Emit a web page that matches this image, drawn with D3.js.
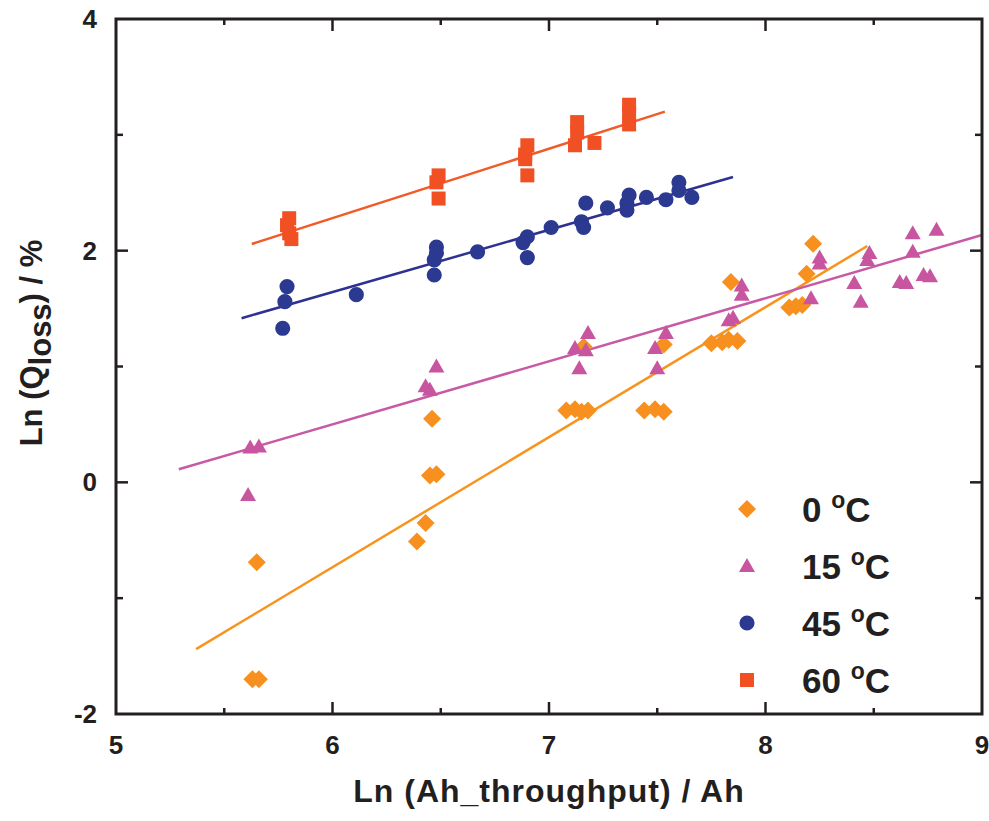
<!DOCTYPE html>
<html>
<head>
<meta charset="utf-8">
<script src="https://cdn.jsdelivr.net/npm/d3@7"></script>
<style>
  body { margin: 0; background: #fff; }
  text { font-family: "Liberation Sans", Arial, sans-serif; font-weight: bold; fill: #231f20; }
</style>
</head>
<body>
<div id="chart"></div>
<script>
// 0 °C
const x0C = [5.63, 5.66, 5.65, 6.39, 6.43, 6.45, 6.48, 6.46, 7.08, 7.12, 7.15, 7.18, 7.16, 7.44, 7.49, 7.53, 7.53, 7.75, 7.80, 7.83, 7.87, 7.84, 8.11, 8.14, 8.17, 8.19, 8.22];
const y0C = [-1.70, -1.70, -0.69, -0.51, -0.35, 0.06, 0.07, 0.55, 0.62, 0.63, 0.61, 0.62, 1.17, 0.62, 0.63, 0.61, 1.19, 1.20, 1.21, 1.23, 1.22, 1.73, 1.51, 1.52, 1.53, 1.80, 2.06];
// 15 °C
const x15C = [5.61, 5.62, 5.66, 6.43, 6.45, 6.48, 7.12, 7.17, 7.14, 7.18, 7.49, 7.50, 7.54, 7.83, 7.85, 7.89, 7.89, 8.21, 8.25, 8.25, 8.41, 8.44, 8.47, 8.48, 8.62, 8.65, 8.68, 8.68, 8.73, 8.76, 8.79];
const y15C = [-0.11, 0.30, 0.31, 0.83, 0.80, 1.00, 1.16, 1.14, 0.985, 1.29, 1.16, 0.985, 1.29, 1.40, 1.42, 1.62, 1.70, 1.59, 1.89, 1.94, 1.72, 1.56, 1.92, 1.98, 1.73, 1.72, 1.99, 2.15, 1.79, 1.78, 2.18];
// 45 °C
const x45C = [5.79, 5.78, 5.77, 6.11, 6.48, 6.48, 6.47, 6.47, 6.67, 6.90, 6.88, 6.90, 7.01, 7.17, 7.15, 7.16, 7.27, 7.37, 7.36, 7.36, 7.45, 7.54, 7.60, 7.60, 7.66];
const y45C = [1.69, 1.56, 1.33, 1.62, 2.03, 1.98, 1.92, 1.79, 1.99, 2.12, 2.07, 1.94, 2.20, 2.41, 2.25, 2.20, 2.37, 2.48, 2.41, 2.35, 2.46, 2.44, 2.59, 2.52, 2.46];
// 60 °C
const x60C = [5.80, 5.79, 5.80, 5.81, 6.49, 6.48, 6.49, 6.90, 6.89, 6.89, 6.90, 7.13, 7.13, 7.12, 7.21, 7.37, 7.37, 7.37];
const y60C = [2.28, 2.22, 2.15, 2.10, 2.65, 2.59, 2.45, 2.91, 2.83, 2.79, 2.65, 3.11, 3.02, 2.91, 2.93, 3.26, 3.19, 3.09];

// fitted lines (start / end)
const fitX0C = [5.37, 8.47], fitY0C = [-1.44, 2.04];
const fitX15C = [5.29, 9.0], fitY15C = [0.113, 2.135];
const fitX45C = [5.58, 7.85], fitY45C = [1.417, 2.636];
const fitX60C = [5.627, 7.535], fitY60C = [2.058, 3.20];

const legendLabels = ["0", "15", "45", "60"];
const xTicks = [5, 6, 7, 8, 9];
const yTicks = [-2, 0, 2, 4];

drawChart()

function drawChart() {
    const width = 989;
    const height = 821;
    const left = 116, right = 982, top = 19, bottom = 714;

    const x = d3.scaleLinear().domain([5, 9]).range([left, right]);
    const y = d3.scaleLinear().domain([-2, 4]).range([bottom, top]);

    const svg = d3.select("#chart")
        .append("svg")
        .attr("width", width)
        .attr("height", height);

    // marker shapes
    const shapes = {
        diamond: "M0,-9L9,0L0,9L-9,0Z",
        triangle: "M0,-8L8,6L-8,6Z",
        circle: d3.symbol().type(d3.symbolCircle).size(180)(),
        square: "M-7,-7H7V7H-7Z"
    };

    const series = [
        {xs: x0C, ys: y0C, fx: fitX0C, fy: fitY0C, color: "#f7901e", line: "#f7941d", shape: "diamond"},
        {xs: x15C, ys: y15C, fx: fitX15C, fy: fitY15C, color: "#c855a0", line: "#c85aa5", shape: "triangle"},
        {xs: x45C, ys: y45C, fx: fitX45C, fy: fitY45C, color: "#2b3990", line: "#2e3192", shape: "circle"},
        {xs: x60C, ys: y60C, fx: fitX60C, fy: fitY60C, color: "#f05023", line: "#f15a29", shape: "square"}
    ];

    // fit lines
    series.forEach(s => {
        svg.append("line")
            .attr("x1", x(s.fx[0])).attr("y1", y(s.fy[0]))
            .attr("x2", x(s.fx[1])).attr("y2", y(s.fy[1]))
            .attr("stroke", s.line)
            .attr("stroke-width", 2.5);
    });

    // points
    series.forEach(s => {
        svg.append("g")
            .selectAll("path")
            .data(s.xs.map((v, i) => [v, s.ys[i]]))
            .enter()
            .append("path")
            .attr("d", shapes[s.shape])
            .attr("transform", d => `translate(${x(d[0])},${y(d[1])})`)
            .attr("fill", s.color);
    });

    // frame + inward ticks on all sides
    const axisColor = "#231f20";
    svg.append("rect")
        .attr("x", left).attr("y", top)
        .attr("width", right - left).attr("height", bottom - top)
        .attr("fill", "none")
        .attr("stroke", axisColor)
        .attr("stroke-width", 3);

    const xMinor = d3.range(5.5, 9, 1);
    const yMinor = [-1, 1, 3];

    function xTickMarks(vals, len) {
        vals.forEach(v => {
            svg.append("line").attr("x1", x(v)).attr("x2", x(v))
                .attr("y1", bottom).attr("y2", bottom - len)
                .attr("stroke", axisColor).attr("stroke-width", 2.5);
            svg.append("line").attr("x1", x(v)).attr("x2", x(v))
                .attr("y1", top).attr("y2", top + len)
                .attr("stroke", axisColor).attr("stroke-width", 2.5);
        });
    }
    function yTickMarks(vals, len) {
        vals.forEach(v => {
            svg.append("line").attr("x1", left).attr("x2", left + len)
                .attr("y1", y(v)).attr("y2", y(v))
                .attr("stroke", axisColor).attr("stroke-width", 2.5);
            svg.append("line").attr("x1", right).attr("x2", right - len)
                .attr("y1", y(v)).attr("y2", y(v))
                .attr("stroke", axisColor).attr("stroke-width", 2.5);
        });
    }
    xTickMarks(xTicks.slice(1, -1), 12);
    xTickMarks(xMinor, 6);
    yTickMarks(yTicks.slice(1, -1), 12);
    yTickMarks(yMinor, 7);

    // tick labels
    svg.selectAll(".xlab")
        .data(xTicks)
        .enter()
        .append("text")
        .attr("x", d => x(d))
        .attr("y", bottom + 40)
        .attr("text-anchor", "middle")
        .style("font-size", "26px")
        .text(d => d);

    svg.selectAll(".ylab")
        .data(yTicks)
        .enter()
        .append("text")
        .attr("x", 97)
        .attr("y", d => y(d) + 9)
        .attr("text-anchor", "end")
        .style("font-size", "26px")
        .text(d => d);

    // axis titles
    svg.append("text")
        .attr("x", (left + right) / 2)
        .attr("y", 802)
        .attr("text-anchor", "middle")
        .style("font-size", "32px")
        .style("letter-spacing", "1px")
        .text("Ln (Ah_throughput) / Ah");

    const yt = svg.append("text")
        .attr("transform", "translate(42, 343) rotate(-90)")
        .attr("text-anchor", "middle")
        .style("font-size", "31px");
    yt.append("tspan").text("Ln (Q");
    yt.append("tspan").attr("dy", 9).text("loss");
    yt.append("tspan").attr("dy", -9).text(") / %");

    // legend
    const legend = svg.append("g");
    series.forEach((s, i) => {
        const cy = 509 + i * 57;
        legend.append("path")
            .attr("d", shapes[s.shape])
            .attr("transform", `translate(747,${cy})`)
            .attr("fill", s.color);
        const t = legend.append("text")
            .attr("x", 802)
            .attr("y", cy + 13)
            .style("font-size", "35px");
        t.append("tspan").text(legendLabels[i] + " ");
        t.append("tspan").attr("dy", -14).style("font-size", "23px").text("o");
        t.append("tspan").attr("dy", 14).text("C");
    });
}
</script>
</body>
</html>
